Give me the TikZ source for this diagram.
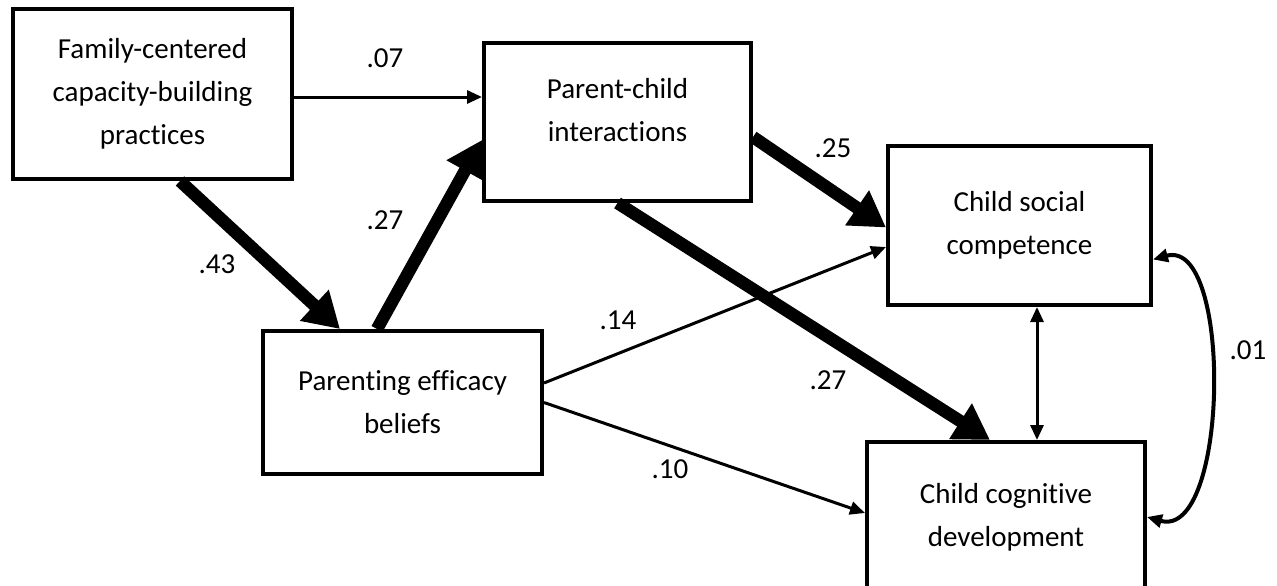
\documentclass[tikz,border=0pt]{standalone}
\usepackage{fontspec}
\setmainfont[RawFeature=-liga]{Carlito}
\usepackage{tikz}
\usetikzlibrary{arrows.meta}

\begin{document}
\begin{tikzpicture}[x=1pt,y=-1pt,
		box/.style={draw,line width=4pt,align=center,inner sep=0pt,font=\fontsize{29}{43}\selectfont},
		lbl/.style={font=\fontsize{29}{34}\selectfont},
		thin/.style={line width=3pt,-{Triangle[length=15pt,width=13pt]}},
		fat/.style={line width=12.5pt,-{Triangle[length=35pt,width=40pt]}},
		both/.style={line width=3pt,{Triangle[length=15pt,width=13pt]}-{Triangle[length=15pt,width=13pt]}}]
		\useasboundingbox (0,0) rectangle (1277,586);
		\node[box,minimum width=279pt,minimum height=170pt] (FC) at (152.5,94) {Family-centered\\capacity-building\\practices};
		\node[box,minimum width=267pt,minimum height=158pt] (PC) at (617.5,122) {Parent-child\\interactions\\[-19pt]};
		\node[box,minimum width=263pt,minimum height=159pt] (SC) at (1019.5,225.5) {Child social\\competence};
		\node[box,minimum width=279pt,minimum height=143pt] (EF) at (402.5,402.5) {Parenting efficacy\\beliefs};
		\node[box,minimum width=278pt,minimum height=150pt] (CD) at (1006,517) {Child cognitive\\development};
		\node[lbl] (L07) at (385,58) {.07};
		\node[lbl] (L43) at (217,264) {.43};
		\node[lbl] (L27a) at (385,220) {.27};
		\node[lbl] (L25) at (833,148) {.25};
		\node[lbl] (L14) at (618,320) {.14};
		\node[lbl] (L27b) at (828,380) {.27};
		\node[lbl] (L10) at (670,469) {.10};
		\node[lbl] (L01) at (1248,350) {.01};
		\draw[thin] ([yshift=-3pt]FC.east) -- ([yshift=-3pt]FC.east -| PC.west);
		\draw[fat] ([xshift=27.5pt]FC.south) -- ([xshift=-62.5pt]EF.north);
		\draw[fat] ([xshift=-25.5pt]EF.north) -- ([yshift=-18pt]PC.west);
		\draw[fat] ([yshift=-15pt]PC.east) -- ([yshift=-2pt]SC.west);
		\draw[fat] (PC.south) -- ([xshift=-16pt]CD.north);
		\draw[thin] ([yshift=19.5pt]EF.east) -- ([yshift=-21.5pt]SC.west);
		\draw[thin] (EF.east) -- ([yshift=4pt]CD.west);
		\draw[both] ([xshift=17.5pt]SC.south) -- ([xshift=17.5pt]SC.south |- CD.north);
		\draw[both,line width=4pt] ([yshift=-34pt]SC.east) .. controls +(80,-22) and +(82,23) .. (CD.east);
	\end{tikzpicture}
\end{document}
